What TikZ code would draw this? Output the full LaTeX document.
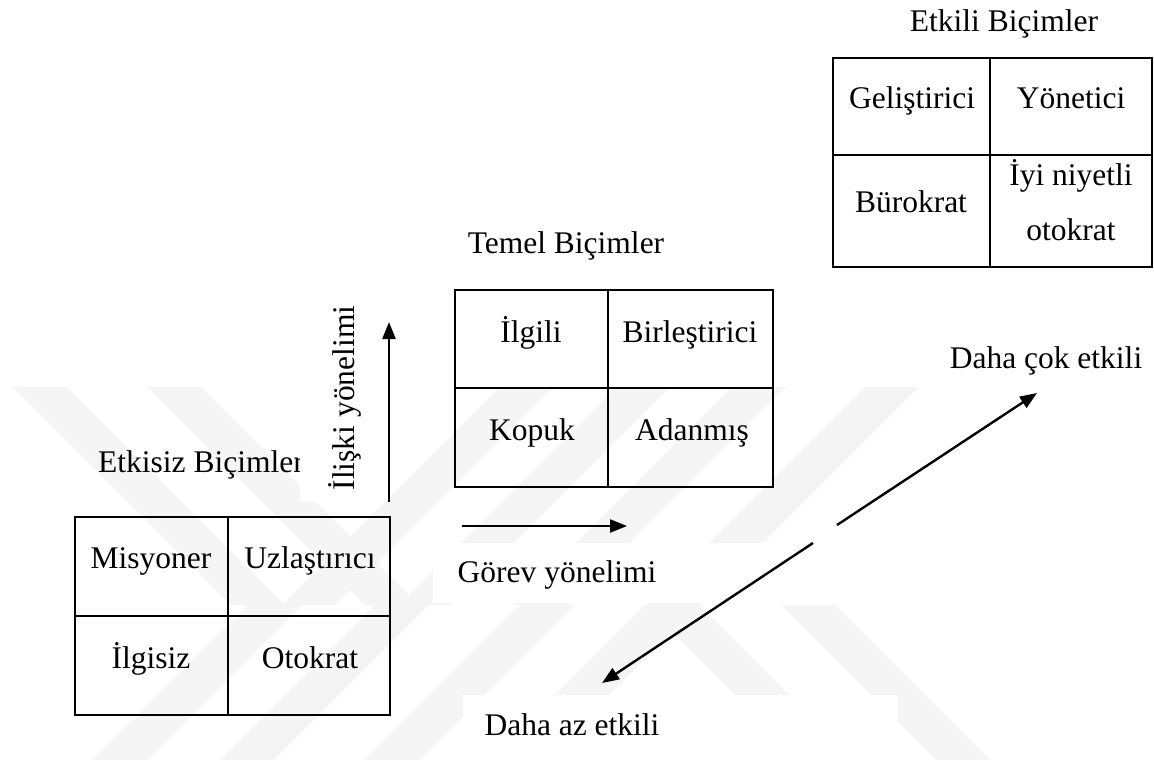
\documentclass[tikz,border=0pt]{standalone}
\usepackage{fontspec}
\setmainfont{Liberation Serif}
\usetikzlibrary{arrows.meta}
\usetikzlibrary{positioning}

\newcommand{\celltext}{\fontsize{31.5}{55}\selectfont}

\tikzset{
  grid/.style={draw=black, line width=2.4pt},
  lbl/.style={font=\celltext, inner sep=0pt, anchor=base},
  arr/.style={line width=2.4pt, -{Triangle[length=17pt,width=13pt]}},
  band/.style={fill=black!4, draw=none},
  cover/.style={fill=white, draw=none},
}

\begin{document}
\begin{tikzpicture}[x=1pt, y=-1pt]
\useasboundingbox (0,0) rectangle (1154,760);

% faint watermark, upper half
\begin{scope}
  \clip (0,387) rectangle (1154,605);
  \foreach \a in {13,147}
    \fill[band] (\a,387) -- ++(54,0) -- ++(218,218) -- ++(-54,0) -- cycle;
  \foreach \a in {500,616,732,865}
    \fill[band] (\a,387) -- ++(54,0) -- ++(-218,218) -- ++(-54,0) -- cycle;
\end{scope}
% faint watermark, lower half
\begin{scope}
  \clip (0,605) rectangle (1154,760);
  \foreach \a in {248,375,520,645}
    \fill[band] (\a,605) -- ++(54,0) -- ++(-155,155) -- ++(-54,0) -- cycle;
  \foreach \a in {645,781}
    \fill[band] (\a,605) -- ++(54,0) -- ++(155,155) -- ++(-54,0) -- cycle;
\end{scope}

\node[lbl, anchor=base west] (etkisiz) at (98,472) {Etkisiz Biçimler};

% white boxes behind the labels
\fill[cover] (300,300) rectangle (380,502);
\fill[cover] (433,543) rectangle (800,603);
\fill[cover] (463,695) rectangle (898,760);

% labels
\node[lbl] (etkili) at (1004,32) {Etkili Biçimler};
\node[lbl] (temel) at (566,253) {Temel Biçimler};
\node[lbl, rotate=90] (iliski) at (354,398) {İlişki yönelimi};
\node[lbl] (gorev) at (557,582) {Görev yönelimi};
\node[lbl] (cok) at (1046,368) {Daha çok etkili};
\node[lbl] (az) at (572,735) {Daha az etkili};

% etkisiz bicimler
\draw[grid] (75,517) rectangle (390,715);
\draw[grid] (228,517) -- (228,715) (75,616) -- (390,616);
\node[lbl] (misyoner) at (151,568) {Misyoner};
\node[lbl] (uzlastirici) at (310,568) {Uzlaştırıcı};
\node[lbl] (ilgisiz) at (151,668) {İlgisiz};
\node[lbl] (otokrat) at (310,668) {Otokrat};

% temel bicimler
\draw[grid] (455,290) rectangle (773,487);
\draw[grid] (608,290) -- (608,487) (455,388) -- (773,388);
\node[lbl] (ilgili) at (531,342) {İlgili};
\node[lbl] (birlestirici) at (690,342) {Birleştirici};
\node[lbl] (kopuk) at (532,440) {Kopuk};
\node[lbl] (adanmis) at (692,440) {Adanmış};

% etkili bicimler
\draw[grid] (833,58) rectangle (1152,267);
\draw[grid] (990,58) -- (990,267) (833,155) -- (1152,155);
\node[lbl] (gelistirici) at (912,108) {Geliştirici};
\node[lbl] (yonetici) at (1071,108) {Yönetici};
\node[lbl] (burokrat) at (911,212) {Bürokrat};
\node[lbl, align=center] (iyiniyetli) at (1071,240) {İyi niyetli\\otokrat};

% arrows
\coordinate (iliskialt) at (389,502);
\coordinate (iliskiust) at (389,322);
\coordinate (gorevbas) at (462,526);
\coordinate (gorevuc) at (627,526);
\coordinate (merkezust) at (837,525);
\coordinate (cokuc) at (1037,393);
\coordinate (merkezalt) at (813,543);
\coordinate (azuc) at (602,683);

\draw[arr] (iliskialt) -- (iliskiust);
\draw[arr] (gorevbas) -- (gorevuc);
\draw[arr] (merkezust) -- (cokuc);
\draw[arr] (merkezalt) -- (azuc);
\end{tikzpicture}
\end{document}
